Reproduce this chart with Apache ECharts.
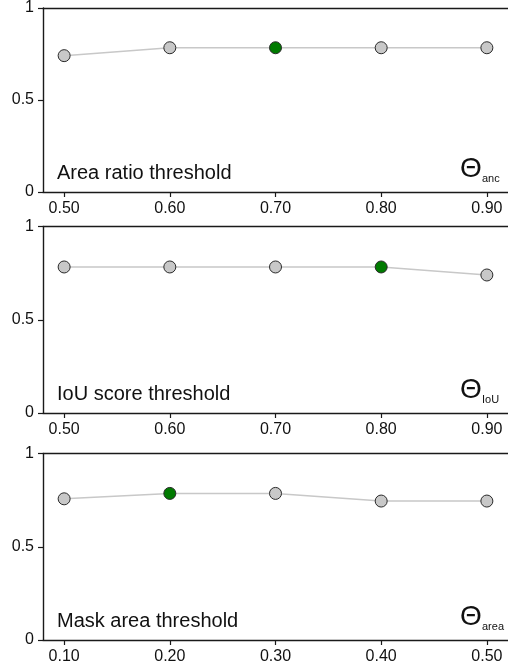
<!DOCTYPE html>
<html>
<head>
<meta charset="utf-8">
<script src="https://cdn.jsdelivr.net/npm/echarts@6/dist/echarts.min.js"></script>
<style>
html,body{margin:0;padding:0;background:#fff;}
#chart{width:508px;height:665px;}
</style>
</head>
<body>
<div id="chart"></div>
<script>
// ---- data ----
const panelTitles = ['Area ratio threshold', 'IoU score threshold', 'Mask area threshold'];
const panelSubs = ['anc', 'IoU', 'area'];
const xValues1 = [0.50, 0.60, 0.70, 0.80, 0.90];
const xValues2 = [0.50, 0.60, 0.70, 0.80, 0.90];
const xValues3 = [0.10, 0.20, 0.30, 0.40, 0.50];
const xTickLabels1 = ['0.50', '0.60', '0.70', '0.80', '0.90'];
const xTickLabels2 = ['0.50', '0.60', '0.70', '0.80', '0.90'];
const xTickLabels3 = ['0.10', '0.20', '0.30', '0.40', '0.50'];
const scores1 = [0.741, 0.784, 0.784, 0.784, 0.784];
const scores2 = [0.783, 0.783, 0.783, 0.783, 0.740];
const scores3 = [0.757, 0.786, 0.786, 0.745, 0.745];
const bestIndex = [2, 3, 1];
const yTicks = [0, 0.5, 1];
const yTickLabels = ['0', '0.5', '1'];

// ---- layout ----
const FONT = "'Liberation Sans', Arial, sans-serif";
const gridTops = [5.5, 226.5, 453.5];
const gridH = 186.5;
const gridLeft = 43;
const gridW = 469;
const xs = [xValues1, xValues2, xValues3];
const xl = [xTickLabels1, xTickLabels2, xTickLabels3];
const ys = [scores1, scores2, scores3];

const grids = [], xAxes = [], yAxes = [], series = [], graphics = [];
for (let i = 0; i < 3; i++) {
  grids.push({left: gridLeft, top: gridTops[i], width: gridW, height: gridH, containLabel: false});
  const step = xs[i][1] - xs[i][0];
  const mn = xs[i][0] - step * 0.2;
  const mx = xs[i][xs[i].length - 1] + step * 0.2;
  const labelMap = {};
  xs[i].forEach((v, k) => labelMap[v.toFixed(2)] = xl[i][k]);
  xAxes.push({
    type: 'value', gridIndex: i, position: 'bottom', min: mn, max: mx,
    axisLine: {show: true, onZero: false, lineStyle: {color: '#1a1a1a', width: 1.4}},
    axisTick: {show: true, inside: false, length: 5, customValues: xs[i], lineStyle: {color: '#1a1a1a', width: 1.2}},
    axisLabel: {show: true, customValues: xs[i], margin: 9, fontSize: 16, fontFamily: FONT, color: '#111',
      formatter: v => labelMap[Number(v).toFixed(2)] || ''},
    splitLine: {show: false}
  });
  xAxes.push({
    type: 'value', gridIndex: i, position: 'top', min: mn, max: mx,
    axisLine: {show: true, onZero: false, lineStyle: {color: '#1a1a1a', width: 1.4}},
    axisTick: {show: false}, axisLabel: {show: false}, splitLine: {show: false}
  });
  yAxes.push({
    type: 'value', gridIndex: i, min: 0, max: 1,
    axisLine: {show: true, onZero: false, lineStyle: {color: '#1a1a1a', width: 1.4}},
    axisTick: {show: true, length: 5, customValues: yTicks, lineStyle: {color: '#1a1a1a', width: 1.2}},
    axisLabel: {show: true, customValues: yTicks, margin: 9, fontSize: 16, fontFamily: FONT, color: '#111',
      formatter: v => yTickLabels[yTicks.indexOf(Number(v))] ?? ''},
    splitLine: {show: false}
  });
  series.push({
    type: 'line', xAxisIndex: i * 2, yAxisIndex: i,
    data: xs[i].map((x, k) => ({
      value: [x, ys[i][k]],
      itemStyle: {color: k === bestIndex[i] ? '#007a00' : '#c8c8c8', borderColor: '#2a2a2a', borderWidth: 1, opacity: 1}
    })),
    symbol: 'circle', symbolSize: 12, showSymbol: true,
    lineStyle: {color: '#c8c8c8', width: 1.5},
    animation: false, silent: true, z: 3
  });
  const bottom = gridTops[i] + gridH;
  graphics.push({type: 'text', x: 57, y: bottom - 19, silent: true,
    style: {text: panelTitles[i], fontSize: 20, fontFamily: FONT, fill: '#111', align: 'left', verticalAlign: 'middle'}});
  graphics.push({type: 'text', x: 460, y: bottom - 23, silent: true,
    style: {text: 'Θ', fontSize: 28, fontFamily: FONT, fill: '#111', align: 'left', verticalAlign: 'middle'}});
  graphics.push({type: 'text', x: 482, y: bottom - 13, silent: true,
    style: {text: panelSubs[i], fontSize: 11, fontFamily: FONT, fill: '#111', align: 'left', verticalAlign: 'middle'}});
}

const chart = echarts.init(document.getElementById('chart'), null, {renderer: 'canvas'});
chart.setOption({
  animation: false,
  backgroundColor: '#ffffff',
  grid: grids, xAxis: xAxes, yAxis: yAxes, series: series, graphic: graphics
});
</script>
</body>
</html>
